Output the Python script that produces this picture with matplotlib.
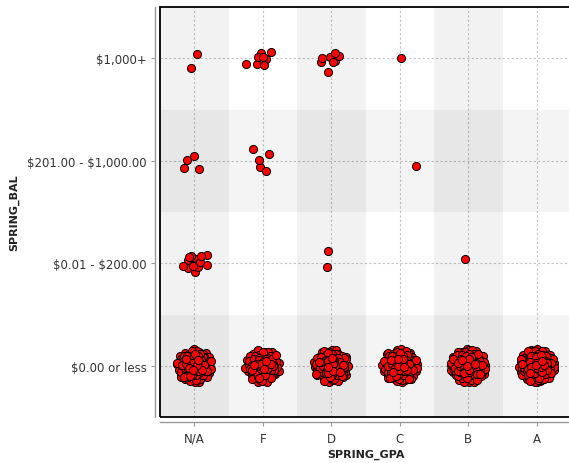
import numpy as np
import matplotlib.pyplot as plt
from matplotlib.patches import Rectangle

gpa_levels = ["N/A", "F", "D", "C", "B", "A"]
bal_levels = ["\\$0.00 or less", "\\$0.01 - \\$200.00", "\\$201.00 - \\$1,000.00", "\\$1,000+"]

# number of students in each (balance, gpa) cell, rows follow bal_levels
counts_zero = [600, 450, 550, 700, 900, 900]
counts_low = [16, 0, 2, 0, 1, 0]
counts_mid = [4, 5, 0, 1, 0, 0]
counts_high = [2, 8, 8, 1, 0, 0]
counts = [counts_zero, counts_low, counts_mid, counts_high]


def halton(i, base):
    f, r = 1.0, 0.0
    while i > 0:
        f /= base
        r += f * (i % base)
        i //= base
    return r


def jitter(n, start):
    # deterministic gaussian-like jitter from a halton sequence
    idx = np.arange(start, start + n)
    u = np.array([halton(i, 2) for i in idx])
    v = np.array([halton(i, 3) for i in idx])
    r = np.minimum(np.sqrt(-2 * np.log(u)), 2.9)
    a = 2 * np.pi * v
    return r * np.cos(a), r * np.sin(a)


xs, ys = [], []
start = 7
for yi, row in enumerate(counts):
    for xi, n in enumerate(row):
        if n == 0:
            continue
        dx, dy = jitter(n, start)
        start += n + 11
        xs.append(xi + dx * 0.088)
        ys.append(yi + dy * 0.056)
xs = np.concatenate(xs)
ys = np.concatenate(ys)

fig = plt.figure(figsize=(5.69, 4.64), dpi=100)
ax = fig.add_axes([160 / 569, 46 / 464, 411 / 569, 410 / 464])

for i in range(len(gpa_levels)):
    if i % 2 == 0:
        ax.axvspan(i - 0.5, i + 0.5, color="black", alpha=0.05, lw=0)
for j in range(len(bal_levels)):
    if j % 2 == 0:
        ax.axhspan(j - 0.5, j + 0.5, color="black", alpha=0.045, lw=0)

ax.grid(True, color="#c4c4c4", linestyle=(0, (2, 2)), linewidth=0.8)
ax.set_axisbelow(True)

ax.scatter(xs, ys, s=34, c="#ff0000", edgecolors="black", linewidths=0.7, zorder=3)

ax.set_xlim(-0.5, 5.5)
ax.set_ylim(-0.5, 3.5)
ax.set_xticks(range(len(gpa_levels)))
ax.set_xticklabels(gpa_levels)
ax.set_yticks(range(len(bal_levels)))
ax.set_yticklabels(bal_levels)

for side in ["top", "right"]:
    ax.spines[side].set_visible(False)
for side in ["left", "bottom"]:
    ax.spines[side].set_position(("outward", 3.6))
    ax.spines[side].set_color("#9a9a9a")
    ax.spines[side].set_linewidth(1.0)
ax.add_patch(Rectangle((0, 0), 1, 1, transform=ax.transAxes, fill=False,
                       edgecolor="black", linewidth=1.3, clip_on=False, zorder=5))

ax.tick_params(colors="#9a9a9a", labelcolor="#333333", labelsize=8.5, length=3, pad=3)
ax.tick_params(axis="x", pad=4)
ax.set_xlabel("SPRING_GPA", fontsize=8, fontweight="bold", color="#222222")
ax.set_ylabel("SPRING_BAL", fontsize=8, fontweight="bold", color="#222222")
ax.xaxis.set_label_coords(0.5, -0.078)
ax.yaxis.set_label_coords(-0.343, 0.5)

fig.savefig("out.png", dpi=100)
